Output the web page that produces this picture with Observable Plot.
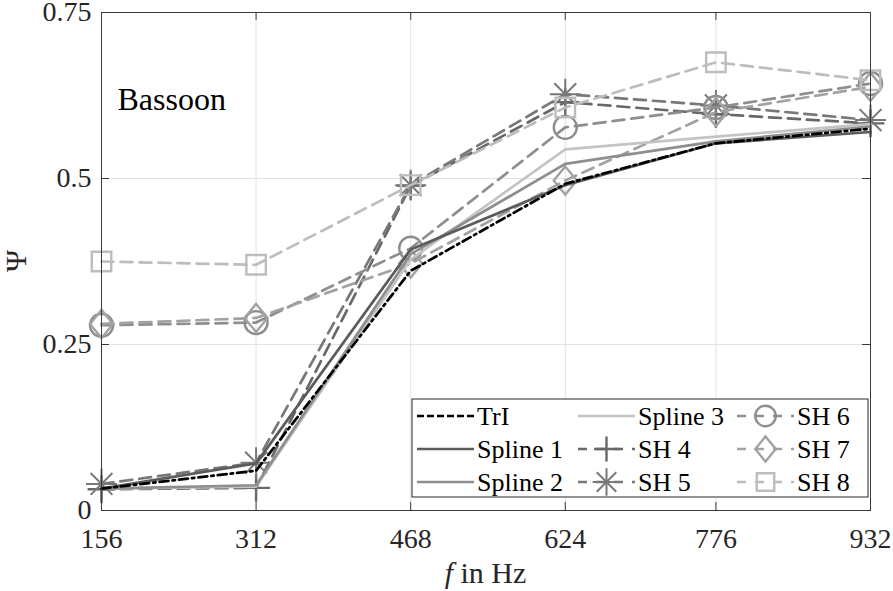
<!DOCTYPE html>
<html><head><meta charset="utf-8">
<script src="https://cdn.jsdelivr.net/npm/d3@7"></script>
<script src="https://cdn.jsdelivr.net/npm/@observablehq/plot@0.6"></script>
<style>
html,body{margin:0;padding:0;background:#fff;}
#chart{width:893px;height:591px;}
</style></head><body><div id="chart"></div>
<script>
// ---- data ----
const freqs = [156, 312, 468, 624, 776, 932];
const yTicks = [0, 0.25, 0.5, 0.75];
const seriesNames = ["TrI", "Spline 1", "Spline 2", "Spline 3", "SH 4", "SH 5", "SH 6", "SH 7", "SH 8"];
const triValues     = [0.033, 0.060, 0.361, 0.492, 0.553, 0.575];
const spline1Values = [0.033, 0.071, 0.393, 0.490, 0.553, 0.570];
const spline2Values = [0.033, 0.038, 0.386, 0.522, 0.556, 0.578];
const spline3Values = [0.033, 0.036, 0.378, 0.544, 0.563, 0.582];
const sh4Values     = [0.032, 0.034, 0.489, 0.615, 0.597, 0.583];
const sh5Values     = [0.040, 0.072, 0.490, 0.627, 0.610, 0.588];
const sh6Values     = [0.279, 0.283, 0.395, 0.577, 0.607, 0.643];
const sh7Values     = [0.281, 0.290, 0.372, 0.497, 0.600, 0.638];
const sh8Values     = [0.375, 0.370, 0.490, 0.607, 0.675, 0.648];
const titleText = "Bassoon";

// ---- styles ----
const diamondSym = {draw(ctx, size) {
  const h = Math.sqrt(size) * 0.72, w = h * 0.82;
  ctx.moveTo(0, -h); ctx.lineTo(w, 0); ctx.lineTo(0, h); ctx.lineTo(-w, 0); ctx.closePath();
}};
const seriesValues = [triValues, spline1Values, spline2Values, spline3Values, sh4Values, sh5Values, sh6Values, sh7Values, sh8Values];
const DASH = "12,7";
const seriesStyle = [
  {stroke: "#000000", dash: "9,4,2.5,4", symbols: []},
  {stroke: "#5c5c5c", dash: null, symbols: []},
  {stroke: "#8e8e8e", dash: null, symbols: []},
  {stroke: "#c4c4c4", dash: null, symbols: []},
  {stroke: "#686868", dash: DASH, symbols: ["plus"], r: 9, sw: 2.4},
  {stroke: "#787878", dash: DASH, symbols: ["plus", "times"], r: 10, sw: 2},
  {stroke: "#8e8e8e", dash: DASH, symbols: ["circle"], r: 11.5, sw: 2.4},
  {stroke: "#a2a2a2", dash: DASH, symbols: [diamondSym], r: 11, sw: 2.4},
  {stroke: "#bdbdbd", dash: DASH, symbols: ["square"], r: 11, sw: 2.4}
];
const LW = 2.7;
const FONT = "'Liberation Serif', 'DejaVu Serif', serif";

const tables = seriesValues.map(vals => freqs.map((f, i) => ({f, v: vals[i]})));
const drawOrder = [4, 5, 6, 7, 8, 3, 2, 1, 0];

const W = 893, H = 591, mL = 101, mR = 23, mT = 12, mB = 81;
const frameW = W - mL - mR, frameH = H - mT - mB;
const TICK = 8;

const marks = [
  Plot.gridX(freqs, {stroke: "#e2e2e2", strokeOpacity: 1, strokeWidth: 1}),
  Plot.gridY(yTicks, {stroke: "#e2e2e2", strokeOpacity: 1, strokeWidth: 1}),
];
for (const k of drawOrder) {
  const s = seriesStyle[k];
  marks.push(Plot.line(tables[k], {x: "f", y: "v", stroke: s.stroke, strokeWidth: LW,
    strokeDasharray: s.dash || undefined, strokeLinejoin: "round"}));
  for (const sym of s.symbols) {
    marks.push(Plot.dot(tables[k], {x: "f", y: "v", symbol: sym, r: s.r, stroke: s.stroke,
      strokeWidth: s.sw, fill: "none"}));
  }
}
marks.push(
  Plot.frame({stroke: "#3a3a3a", strokeWidth: 1}),
  Plot.tickX(freqs, {x: d => d, insetTop: frameH - TICK, stroke: "#3a3a3a"}),
  Plot.tickX(freqs, {x: d => d, insetBottom: frameH - TICK, stroke: "#3a3a3a"}),
  Plot.tickY(yTicks, {y: d => d, insetRight: frameW - TICK, stroke: "#3a3a3a"}),
  Plot.tickY(yTicks, {y: d => d, insetLeft: frameW - TICK, stroke: "#3a3a3a"}),
  Plot.axisX({ticks: freqs, tickSize: 0, tickPadding: 18, tickFormat: d => String(d), fontSize: 28, label: null, fill: "#262626"}),
  Plot.axisY({ticks: yTicks, tickSize: 0, tickPadding: 10, tickFormat: d => String(d), fontSize: 28, label: null, fill: "#262626"}),
  Plot.text([titleText], {frameAnchor: "top-left", text: d => d, dx: 16, dy: 87, textAnchor: "start", lineAnchor: "middle", fontSize: 32, fill: "#000"})
);

const plot = Plot.plot({
  width: W, height: H,
  marginLeft: mL, marginRight: mR, marginTop: mT, marginBottom: mB,
  style: {fontFamily: FONT, background: "white", overflow: "visible"},
  x: {type: "linear", domain: [156, 932]},
  y: {domain: [0, 0.75]},
  marks
});
document.getElementById("chart").appendChild(plot);

// ---- axis labels & legend (layout derived from the Plot scales) ----
const svg = d3.select(plot);
const xr = plot.scale("x").range, yr = plot.scale("y").range;
const cx = (xr[0] + xr[1]) / 2, cy = (yr[0] + yr[1]) / 2;

const xl = svg.append("text").attr("x", cx).attr("y", yr[0] + 62).attr("text-anchor", "middle")
  .attr("dy", "0.35em").style("font-family", FONT).style("font-size", "30px").attr("fill", "#262626");
xl.append("tspan").style("font-style", "italic").text("f");
xl.append("tspan").text(" in Hz");

svg.append("text").attr("transform", `translate(${xr[0] - 86},${cy}) rotate(-90)`)
  .attr("text-anchor", "middle").attr("dy", "0.35em")
  .style("font-family", FONT).style("font-size", "30px").attr("fill", "#262626").text("Ψ");

// legend
const lgW = 456, lgH = 98;
const lgX = xr[1] - 2 - lgW, lgY = yr[0] - 13 - lgH;
const lg = svg.append("g");
lg.append("rect").attr("x", lgX).attr("y", lgY).attr("width", lgW).attr("height", lgH)
  .attr("fill", "white").attr("stroke", "#262626").attr("stroke-width", 1);
const colX = [5, 166, 325], rowY = [17, 50, 83], sampleLen = 57;
seriesNames.forEach((name, k) => {
  const col = Math.floor(k / 3), row = k % 3;
  const x0 = lgX + colX[col], y0 = lgY + rowY[row];
  const s = seriesStyle[k];
  lg.append("line").attr("x1", x0).attr("x2", x0 + sampleLen).attr("y1", y0).attr("y2", y0)
    .attr("stroke", s.stroke).attr("stroke-width", LW)
    .attr("stroke-dasharray", s.dash ? (k === 0 ? "7,3" : "9,9") : null);
  for (const sym of s.symbols) {
    const symObj = typeof sym === "string" ? {plus: d3.symbolPlus, times: d3.symbolTimes, circle: d3.symbolCircle, square: d3.symbolSquare}[sym] : sym;
    lg.append("path").attr("transform", `translate(${x0 + sampleLen / 2},${y0})`)
      .attr("d", d3.symbol(symObj, Math.PI * s.r * s.r * 0.8)())
      .attr("fill", "none").attr("stroke", s.stroke).attr("stroke-width", s.sw);
  }
  lg.append("text").attr("x", x0 + sampleLen + 3).attr("y", y0).attr("dy", "0.35em")
    .attr("text-anchor", "start")
    .style("font-family", FONT).style("font-size", "26px").attr("fill", "#000").text(name);
});
</script></body></html>
